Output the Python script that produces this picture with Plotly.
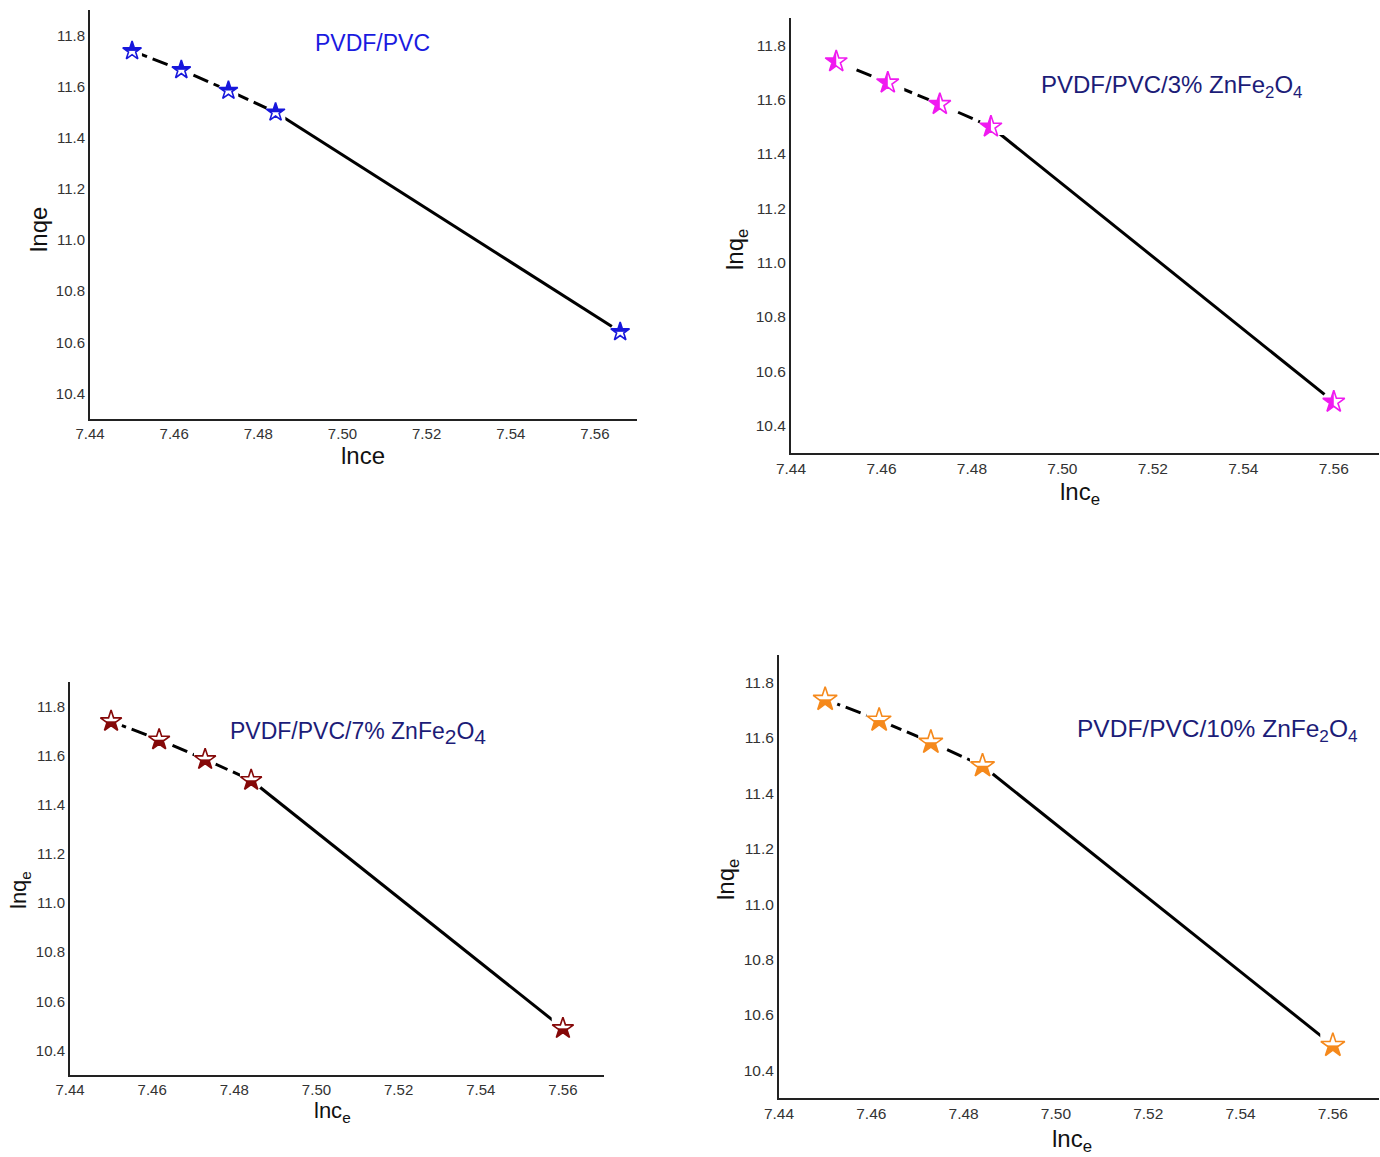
import plotly.graph_objects as go

# ---- data ----
lnce_pvc = [7.450, 7.4617, 7.4729, 7.4841, 7.566]
lnqe_pvc = [11.74, 11.666, 11.585, 11.50, 10.641]

lnce_3 = [7.450, 7.4614, 7.4729, 7.4842, 7.560]
lnqe_3 = [11.74, 11.662, 11.583, 11.50, 10.488]

lnce_7 = [7.450, 7.4617, 7.4729, 7.4841, 7.560]
lnqe_7 = [11.74, 11.665, 11.585, 11.50, 10.49]

lnce_10 = [7.450, 7.4617, 7.4729, 7.4841, 7.560]
lnqe_10 = [11.74, 11.665, 11.585, 11.50, 10.49]

x_ticks = [7.44, 7.46, 7.48, 7.50, 7.52, 7.54, 7.56]
y_ticks = [10.4, 10.6, 10.8, 11.0, 11.2, 11.4, 11.6, 11.8]

W, H = 1380, 1157
FONT = "Liberation Sans, Arial, sans-serif"

sub_big = lambda s: "<sub><span style='font-size:21px'>%s</span></sub>" % s

panels = [
    dict(x=lnce_pvc, y=lnqe_pvc, color="#1717dc", cover_angle=0, cover_h=0.7, star=14,
         px=(90, 637), py=(10, 419), tick=15,
         title="PVDF/PVC", tcol="#1a1ae0", tx=372, ty=43, tsize=23,
         xt="lnce", yt="lnqe", xtx=363, xty=456, ytx=38, yty=230, atsize=24),
    dict(x=lnce_3, y=lnqe_3, color="#f01af0", cover_angle=-90, cover_h=0.5, star=16.5,
         px=(791, 1379), py=(18, 453), tick=15.5,
         title="PVDF/PVC/3% ZnFe<sub>2</sub>O<sub>4</sub>", tcol="#1c1c78", tx=1171, ty=86, tsize=24,
         xt="lnc<sub>e</sub>", yt="lnq<sub>e</sub>", xtx=1080, xty=493, ytx=736, yty=250, atsize=24),
    dict(x=lnce_7, y=lnqe_7, color="#850808", cover_angle=180, cover_h=0.7, star=16,
         px=(70, 604), py=(682, 1075), tick=15,
         title="PVDF/PVC/7% ZnFe" + sub_big("2") + "O" + sub_big("4"), tcol="#1c1c78",
         tx=358, ty=733, tsize=23,
         xt="lnc<sub>e</sub>", yt="lnq<sub>e</sub>", xtx=332, xty=1112, ytx=20, yty=890, atsize=22),
    dict(x=lnce_10, y=lnqe_10, color="#f5891c", cover_angle=180, cover_h=0.7, star=18,
         px=(779, 1379), py=(655, 1098), tick=15.5,
         title="PVDF/PVC/10% ZnFe<sub>2</sub>O<sub>4</sub>", tcol="#1c1c78", tx=1217, ty=730, tsize=24.5,
         xt="lnc<sub>e</sub>", yt="lnq<sub>e</sub>", xtx=1072, xty=1140, ytx=727, yty=880, atsize=24),
]

fig = go.Figure()
annotations = []
layout_axes = {}

for i, p in enumerate(panels):
    n = "" if i == 0 else str(i + 1)
    xa, ya = "x" + n, "y" + n
    s = p["star"]
    h = p["cover_h"]
    kw = dict(xaxis=xa, yaxis=ya, showlegend=False, hoverinfo="skip")
    # dashed part (first four points)
    fig.add_trace(go.Scatter(x=p["x"][:4], y=p["y"][:4], mode="lines",
                             line=dict(color="black", width=3, dash="16px,6px"), **kw))
    # solid part (last segment)
    fig.add_trace(go.Scatter(x=p["x"][3:], y=p["y"][3:], mode="lines",
                             line=dict(color="black", width=3), **kw))
    # white clearance around markers
    fig.add_trace(go.Scatter(x=p["x"], y=p["y"], mode="markers",
                             marker=dict(symbol="circle", size=s * 1.45, color="white", line=dict(width=0)), **kw))
    # filled star
    fig.add_trace(go.Scatter(x=p["x"], y=p["y"], mode="markers",
                             marker=dict(symbol="star", size=s, color=p["color"], line=dict(width=0)), **kw))
    # white cover over the open half
    fig.add_trace(go.Scatter(x=p["x"], y=p["y"], mode="markers",
                             marker=dict(symbol="square", size=s * 2 * h, color="white",
                                         angle=p["cover_angle"], standoff=s * h,
                                         line=dict(width=0)), **kw))
    # star outline
    fig.add_trace(go.Scatter(x=p["x"], y=p["y"], mode="markers", xaxis=xa, yaxis=ya, showlegend=False,
                             marker=dict(symbol="star-open", size=s, color=p["color"],
                                         line=dict(color=p["color"], width=1.6))))

    x0, x1 = p["px"]
    y0, y1 = p["py"]
    common = dict(showgrid=False, zeroline=False, showline=True, linecolor="#222", automargin=False,
                  linewidth=2, ticks="", tickfont=dict(family=FONT, size=p["tick"], color="#333"))
    layout_axes["xaxis" + n] = dict(domain=[x0 / W, x1 / W], range=[7.44, 7.57],
                                    tickvals=x_ticks, tickformat=".2f", anchor=ya,
                                    ticklabelstandoff=0, **common)
    layout_axes["yaxis" + n] = dict(domain=[(H - y1) / H, (H - y0) / H], range=[10.3, 11.9],
                                    tickvals=y_ticks, tickformat=".1f", anchor=xa,
                                    ticklabelstandoff=0, **common)

    annotations.append(dict(text=p["title"], x=p["tx"] / W, y=1 - p["ty"] / H, xref="paper", yref="paper",
                            showarrow=False, xanchor="center", yanchor="middle",
                            font=dict(family=FONT, size=p["tsize"], color=p["tcol"])))
    annotations.append(dict(text=p["xt"], x=p["xtx"] / W, y=1 - p["xty"] / H, xref="paper", yref="paper",
                            showarrow=False, xanchor="center", yanchor="middle",
                            font=dict(family=FONT, size=p["atsize"], color="#111")))
    annotations.append(dict(text=p["yt"], x=p["ytx"] / W, y=1 - p["yty"] / H, xref="paper", yref="paper",
                            showarrow=False, xanchor="center", yanchor="middle", textangle=-90,
                            font=dict(family=FONT, size=p["atsize"], color="#111")))

fig.update_layout(template="none", width=W, height=H, margin=dict(l=0, r=0, t=0, b=0),
                  paper_bgcolor="white", plot_bgcolor="white",
                  annotations=annotations, **layout_axes)

fig.write_html("out.html")
